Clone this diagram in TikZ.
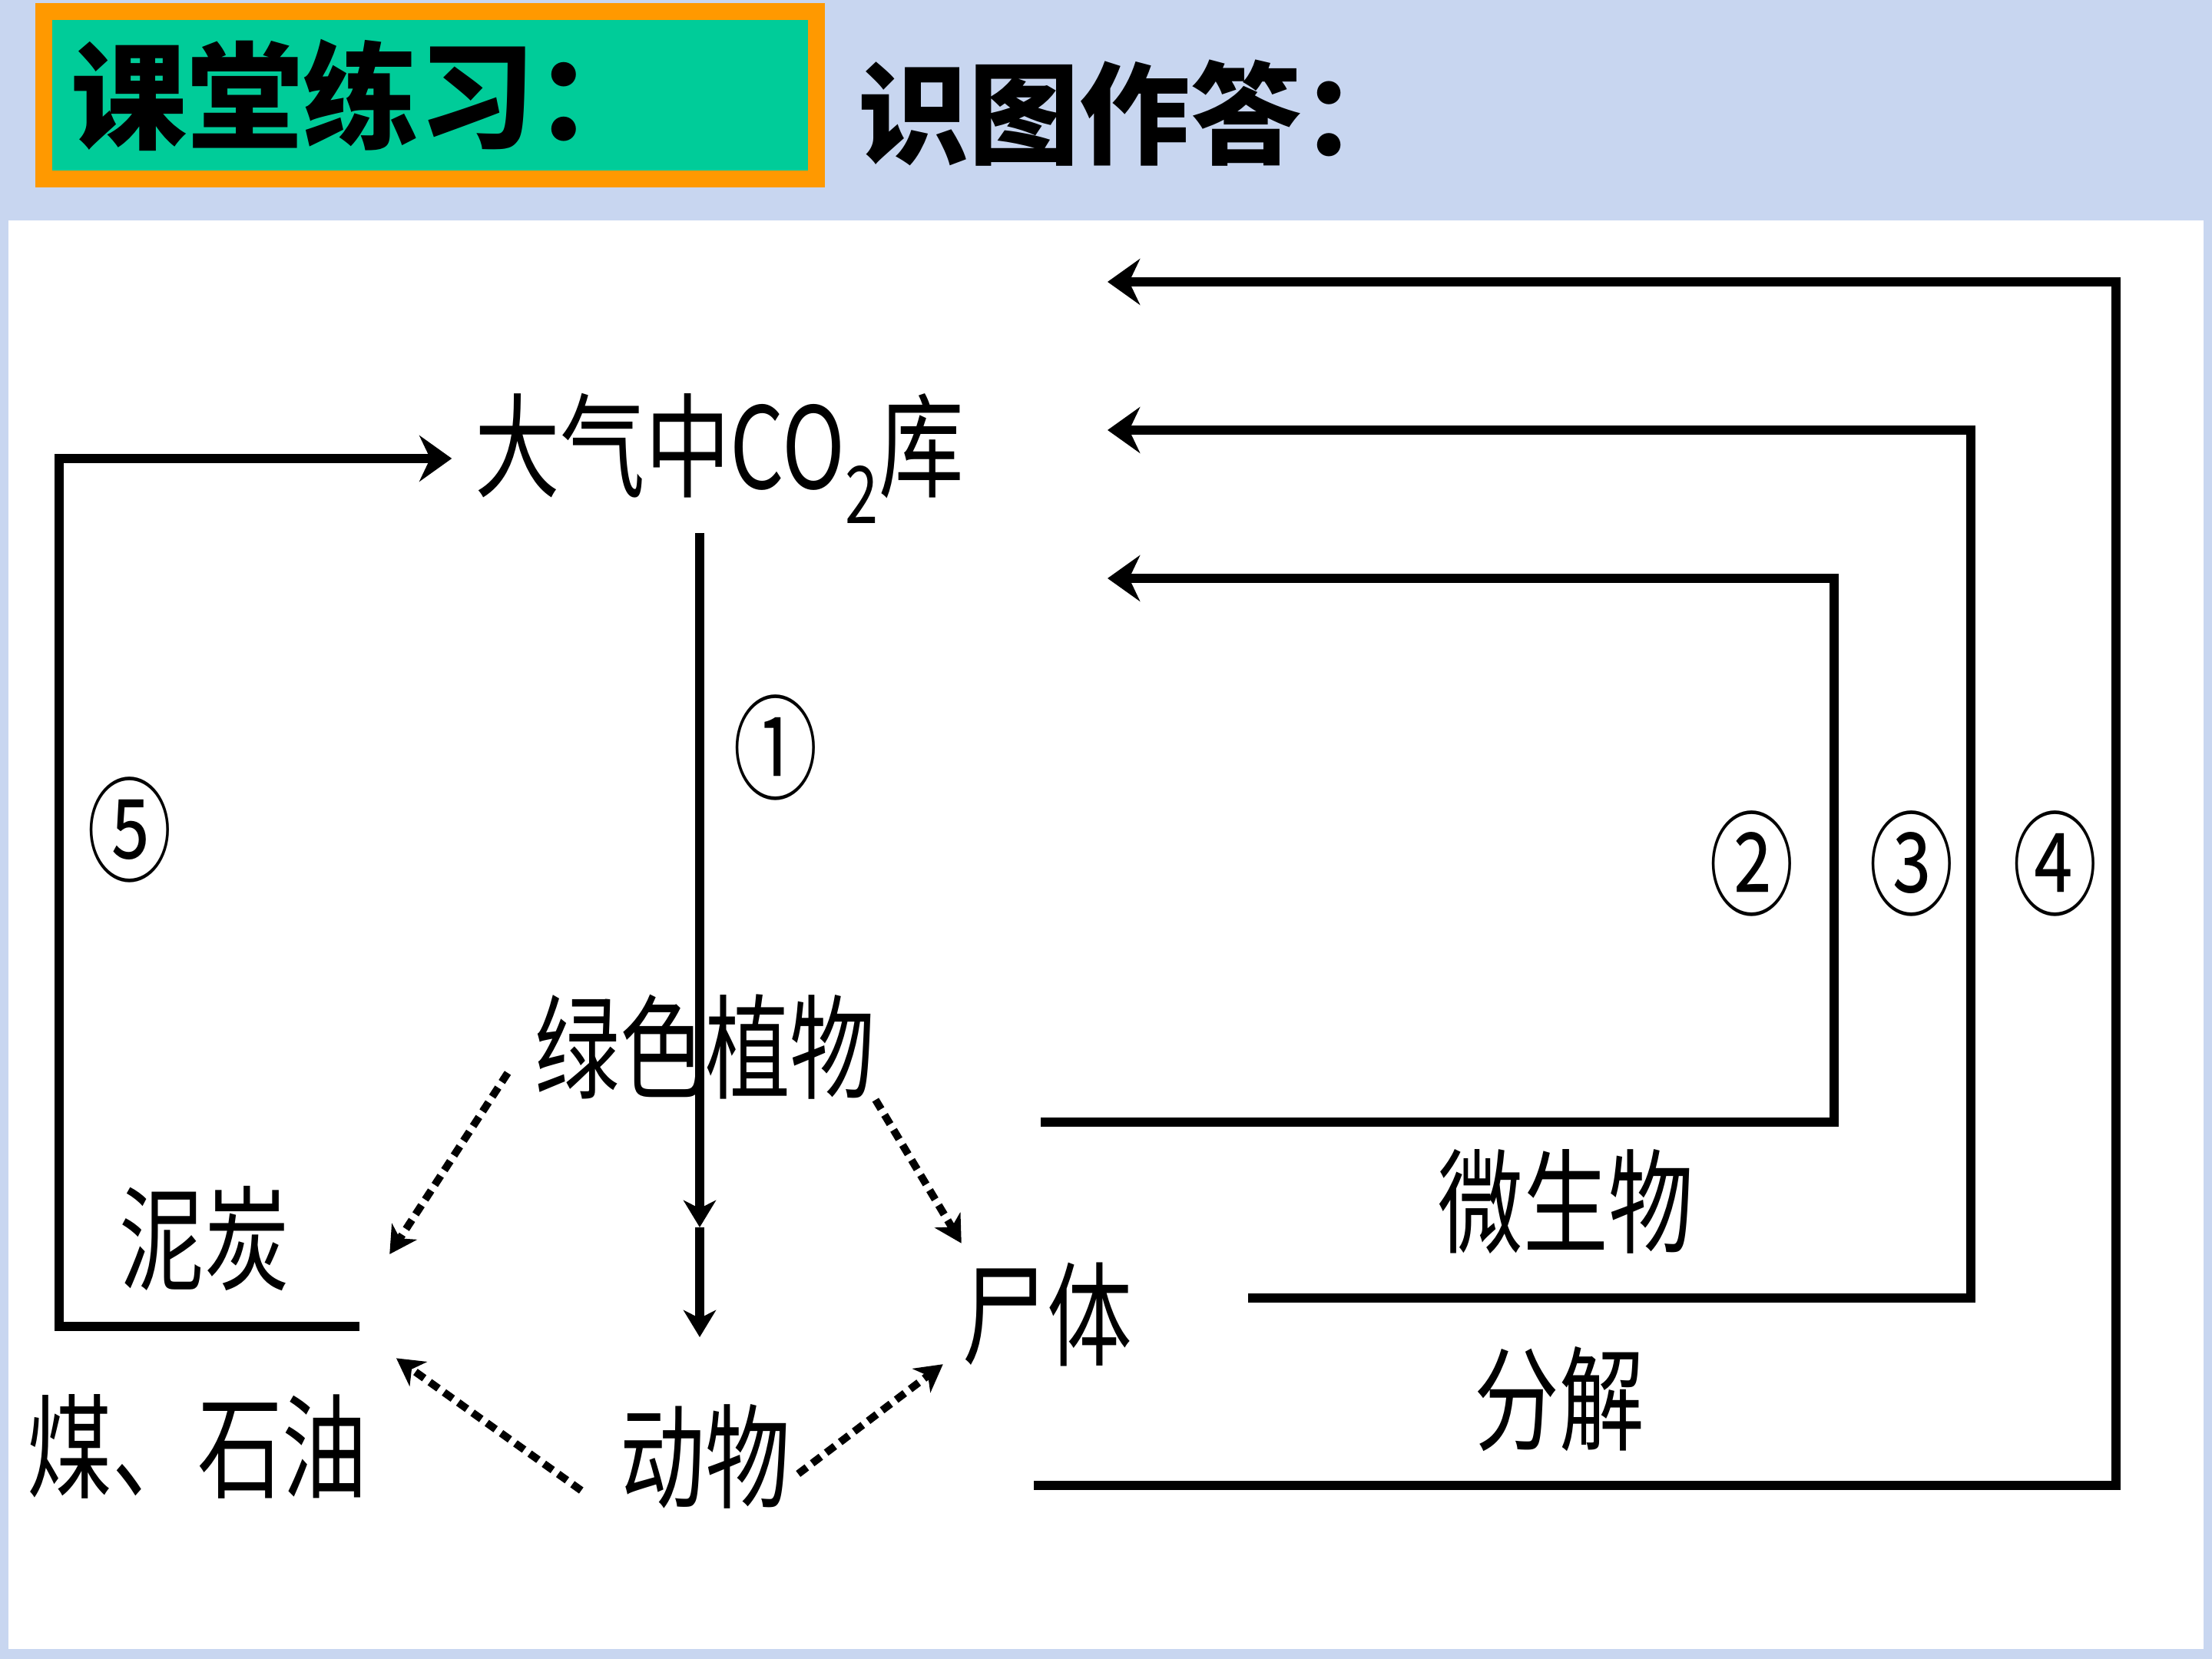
\documentclass[tikz,border=0pt]{standalone}
\usepackage{fontspec}
\usetikzlibrary{arrows.meta,positioning,calc}
\newfontfamily\cjk{Noto Sans CJK SC}
\definecolor{Orange}{HTML}{FF9900}
\definecolor{Teal}{HTML}{00CC99}
\definecolor{BgBlue}{HTML}{C8D6F0}

\begin{document}
\begin{tikzpicture}[
  lbl/.style={font=\cjk\fontsize{42}{44}\selectfont,inner sep=0pt,xscale=0.75,transform shape},
  line/.style={draw=black,line width=3.2pt},
  arr/.style={line,-{Stealth[length=12pt,width=17pt,inset=4pt]}},
  smallarr/.style={line,-{Stealth[length=10pt,width=12pt,inset=3pt]}},
  dotarr/.style={draw=black,line width=2.8pt,dash pattern=on 4pt off 2.5pt,-{Stealth[length=10pt,width=11pt,inset=3pt]}},
  titlebox/.style={draw=Orange,fill=Teal,line width=0.22cm,minimum width=10.06cm,minimum height=2.18cm,inner xsep=0.35cm,text width=9.36cm,align=left,font=\cjk\bfseries\fontsize{43}{45}\selectfont}
]
% background and white panel
\fill[BgBlue] (0,0) rectangle (28.8,21.6);
\fill[white] (0.11,0.13) rectangle (28.69,18.73);
% titles
\node[titlebox] (title) at (5.6,20.36) {课堂练习：};
\node[font=\cjk\bfseries\fontsize{41}{43}\selectfont,anchor=west,inner sep=0pt] (task) at (11.17,20.13) {识图作答：};

% nodes
\node[lbl] (co2) at (9.37,15.63) {大气中CO\textsubscript{2}库};
\node[lbl] (plant) at (9.18,7.97) {绿色植物};
\node[lbl] (peat) at (2.66,5.47) {泥炭};
\node[lbl] (coal) at (2.57,2.77) {煤、石油};
\node[lbl] (animal) at (9.18,2.64) {动物};
\node[lbl] (corpse) at (13.63,4.48) {尸体};
\node[lbl] (micro) at (20.39,5.95) {微生物};
\node[lbl] (decomp) at (20.30,3.38) {分解};
\node[lbl] (n1) at (10.10,11.87) {①};
\node[lbl] (n2) at (22.81,10.36) {②};
\node[lbl] (n3) at (24.89,10.36) {③};
\node[lbl] (n4) at (26.76,10.36) {④};
\node[lbl] (n5) at (1.69,10.80) {⑤};

% free ends
\coordinate (s5) at (4.68,4.33);
\coordinate (s2) at (13.55,6.99);
\coordinate (s3) at (16.25,4.70);
\coordinate (s4) at (13.46,2.26);
\coordinate (e2) at (14.42,14.07);
\coordinate (e3) at (14.42,16.00);
\coordinate (e4) at (14.42,17.93);
\coordinate (p0) at (9.11,14.66);
\coordinate (p1) at (9.11,5.62);
\coordinate (p2) at (9.11,4.19);

% combustion loop
\draw[arr] (s5) -- (0.77,4.33) |- ([xshift=-0.3cm]co2.west);
% photosynthesis and food chain
\draw[smallarr] (p0) -- (p1);
\draw[smallarr] (p1) -- (p2);
\draw[dotarr] ([xshift=-0.35cm,yshift=0.35cm]plant.south west) -- ([xshift=1.3cm,yshift=-0.2cm]peat.east);
\draw[dotarr] (plant.south east) -- ([yshift=0.25cm]corpse.north west);
\draw[dotarr] ([xshift=-0.5cm,yshift=0.24cm]animal.south west) -- ([xshift=0.37cm,yshift=0.46cm]coal.north east);
\draw[dotarr] ([xshift=0.1cm,yshift=-0.23cm]animal.east) -- ([xshift=-0.24cm,yshift=0.04cm]corpse.south west);
% respiration / decomposition loops
\draw[arr] (s2) -| (23.88,14.07) -- (e2);
\draw[arr] (s3) -| (25.66,16.00) -- (e3);
\draw[arr] (s4) -| (27.55,17.93) -- (e4);
\end{tikzpicture}
\end{document}
